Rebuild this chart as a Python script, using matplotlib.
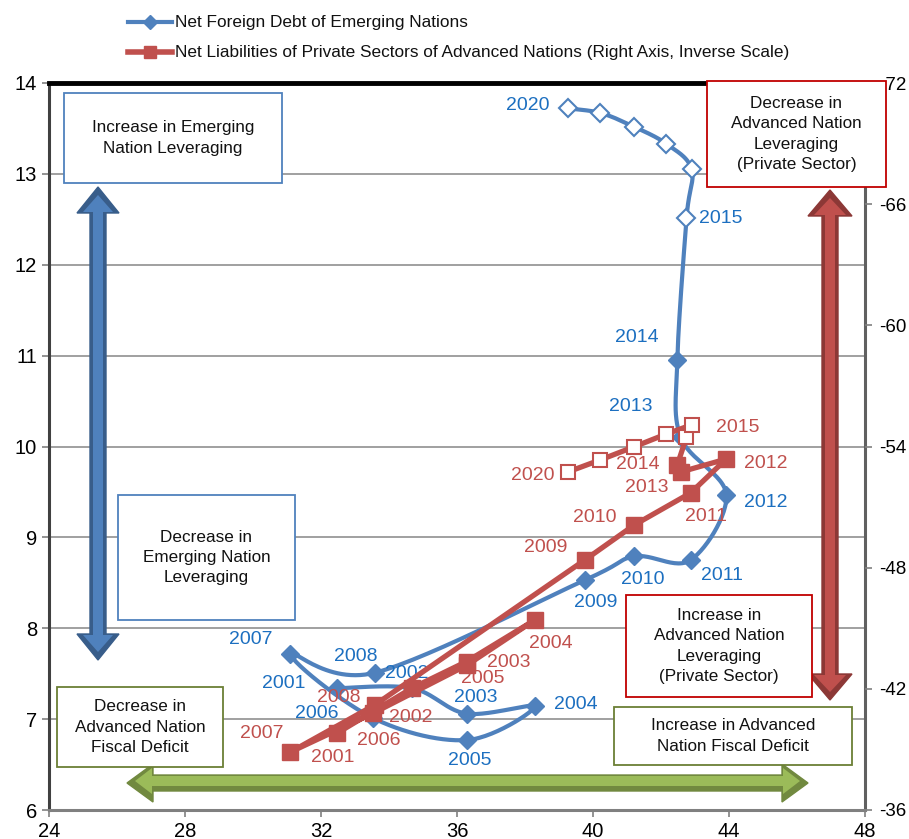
import numpy as np
import matplotlib
matplotlib.use("Agg")
import matplotlib.pyplot as plt
from matplotlib.patches import Rectangle, Polygon
from matplotlib.lines import Line2D

plt.rcParams['axes.unicode_minus'] = False
ARIAL = ['Liberation Sans', 'DejaVu Sans']

# ---------------- data ----------------
years = list(range(2001, 2021))
# x: advanced nation fiscal deficit (shared by both series)
x_vals = [32.48, 34.68, 36.28, 38.29, 36.30, 33.54, 31.10, 33.58, 39.76, 41.22,
          42.87, 43.92, 42.58, 42.48, 42.75, 42.90, 42.16, 41.20, 40.22, 39.26]
# left axis: net foreign debt of emerging nations
emerging = [7.34, 7.34, 7.06, 7.14, 6.77, 7.01, 7.72, 7.51, 8.53, 8.79,
            8.75, 9.47, 10.10, 10.95, 12.51, 13.05, 13.33, 13.52, 13.67, 13.72]
# right axis (inverse): net liabilities of private sectors of advanced nations
advanced = [-39.81, -42.04, -43.35, -45.41, -43.18, -40.80, -38.87, -41.20, -48.38, -50.12,
            -51.70, -53.38, -52.74, -53.09, -54.47, -55.07, -54.62, -53.98, -53.34, -52.74]
n_actual = 14  # 2001-2014 actual (filled), 2015-2020 projected (open)

x_ticks = [24, 28, 32, 36, 40, 44, 48]
left_ticks = [6, 7, 8, 9, 10, 11, 12, 13, 14]
right_ticks = [-36, -42, -48, -54, -60, -66, -72]

legend_labels = ["Net Foreign Debt of Emerging Nations",
                 "Net Liabilities of Private Sectors of Advanced Nations (Right Axis, Inverse Scale)"]

# label offsets (pixels) for the year labels
blue_lab = {2001: (-54, -5), 2002: (-5, -15), 2003: (9, -16), 2004: (41, -2), 2005: (3, 20),
            2006: (-57, -5), 2007: (-40, -14), 2008: (-19, -16), 2009: (11, 22), 2010: (8, 23),
            2011: (31, 15), 2012: (39, 8), 2013: (-50, -31), 2014: (-41, -23), 2015: (34, 0),
            2020: (-40, -3)}
red_lab = {2001: (-5, 24), 2002: (-1, 29), 2003: (42, 1), 2004: (16, 24), 2005: (16, 13),
           2006: (5, 27), 2007: (-29, -19), 2008: (-36, -7), 2009: (-39, -12), 2010: (-40, -7),
           2011: (15, 24), 2012: (39, 4), 2013: (-34, 16), 2014: (-40, 0), 2015: (51, -10),
           2020: (-35, 4)}

BLUE = '#4F81BD'
BLUE_T = '#1C6FC0'
RED = '#C0504D'
W, H = 909, 839

fig = plt.figure(figsize=(W / 100, H / 100), dpi=100)
L, R, T, B = 49, 865, 83, 810
ax = fig.add_axes([L / W, 1 - B / H, (R - L) / W, (B - T) / H])
ax.set_xlim(24, 48)
ax.set_ylim(6, 14)
ax.set_xticks(x_ticks)
ax.set_yticks(left_ticks)
ax.tick_params(axis='both', labelsize=14.5, length=5, color='#808080', width=1.2)
for lab in ax.get_xticklabels() + ax.get_yticklabels():
    lab.set_family(ARIAL)
for y in left_ticks[1:-1]:
    ax.axhline(y, color='#A0A0A0', lw=1.4, zorder=0)
ax.spines['top'].set_linewidth(3.5)
ax.spines['top'].set_color('black')
for s in ['left', 'bottom', 'right']:
    ax.spines[s].set_linewidth(2.2)
    ax.spines[s].set_color('#404040')
ax.spines['bottom'].set_color('#808080')
ax.spines['right'].set_color('#606060')

ax2 = ax.twinx()
ax2.set_ylim(-36, -72)
ax2.set_yticks(right_ticks)
ax2.tick_params(axis='y', labelsize=13.5, length=5, color='#808080', width=1.2, pad=25)
for lab in ax2.get_yticklabels():
    lab.set_family(ARIAL)
    lab.set_horizontalalignment('right')
for s in ax2.spines.values():
    s.set_visible(False)

# smoothed blue line (Excel-like Bezier smoothing in pixel space)
sx = (R - L) / 24.0
sy = (B - T) / 8.0


def smooth(xs, ys, n=30):
    P = np.column_stack([np.asarray(xs) * sx, np.asarray(ys) * sy])
    out = [P[0]]
    for i in range(len(P) - 1):
        p0 = P[i - 1] if i > 0 else P[i]
        p1, p2 = P[i], P[i + 1]
        p3 = P[i + 2] if i + 2 < len(P) else P[i + 1]
        c1 = p1 + (p2 - p0) / 6
        c2 = p2 - (p3 - p1) / 6
        t = np.linspace(0, 1, n)[1:, None]
        Bz = (1 - t) ** 3 * p1 + 3 * (1 - t) ** 2 * t * c1 + 3 * (1 - t) * t ** 2 * c2 + t ** 3 * p2
        out.extend(Bz)
    out = np.array(out)
    return out[:, 0] / sx, out[:, 1] / sy


bx, by = smooth(x_vals, emerging)
ax.plot(bx, by, color=BLUE, lw=3, zorder=3, solid_capstyle='round')
ax.plot(x_vals[:n_actual], emerging[:n_actual], ls='none', marker='D', ms=9,
        mfc=BLUE, mec=BLUE, zorder=4)
ax.plot(x_vals[n_actual:], emerging[n_actual:], ls='none', marker='D', ms=9.5,
        mfc='white', mec=BLUE, mew=1.5, zorder=4)

ax2.plot(x_vals, advanced, color=RED, lw=3.8, zorder=3)
ax2.plot(x_vals[:n_actual], advanced[:n_actual], ls='none', marker='s', ms=12,
         mfc=RED, mec=RED, zorder=4)
ax2.plot(x_vals[n_actual:], advanced[n_actual:], ls='none', marker='s', ms=10,
         mfc='white', mec=RED, mew=1.5, zorder=4)

for i, yr in enumerate(years):
    if yr in blue_lab:
        dx, dy = blue_lab[yr]
        ax.annotate(str(yr), (x_vals[i], emerging[i]), xytext=(dx, -dy),
                    textcoords='offset pixels', ha='center', va='center',
                    fontsize=14, color=BLUE_T, family=ARIAL, zorder=6)
    if yr in red_lab:
        dx, dy = red_lab[yr]
        ax2.annotate(str(yr), (x_vals[i], advanced[i]), xytext=(dx, -dy),
                     textcoords='offset pixels', ha='center', va='center',
                     fontsize=14, color=RED, family=ARIAL, zorder=6)


# ---------- figure-level helpers in pixel coordinates ----------
def fx(px):
    return px / W


def fy(py):
    return 1 - py / H


def box(x0, y0, x1, y1, text, ec):
    fig.add_artist(Rectangle((fx(x0), fy(y1)), fx(x1) - fx(x0), fy(y0) - fy(y1),
                             transform=fig.transFigure, fc='white', ec=ec, lw=1.3, zorder=10))
    fig.text(fx((x0 + x1) / 2), fy((y0 + y1) / 2), text, ha='center', va='center',
             fontsize=12.3, family=ARIAL, color='#111111', linespacing=1.42, zorder=11)


def varrow(xc, ytop, ybot, fill, edge, hw=21, sw=8, hl=26):
    pts = [(xc, ytop), (xc + hw, ytop + hl), (xc + sw, ytop + hl), (xc + sw, ybot - hl),
           (xc + hw, ybot - hl), (xc, ybot), (xc - hw, ybot - hl), (xc - sw, ybot - hl),
           (xc - sw, ytop + hl), (xc - hw, ytop + hl)]
    fig.add_artist(Polygon([(fx(a), fy(b)) for a, b in pts], closed=True,
                           transform=fig.transFigure, fc=edge, ec=edge, lw=1, zorder=9))
    s2, h2 = sw - 3, hw - 6
    pts2 = [(xc, ytop + 8), (xc + h2, ytop + hl - 1), (xc + s2, ytop + hl - 1), (xc + s2, ybot - hl + 1),
            (xc + h2, ybot - hl + 1), (xc, ybot - 8), (xc - h2, ybot - hl + 1), (xc - s2, ybot - hl + 1),
            (xc - s2, ytop + hl - 1), (xc - h2, ytop + hl - 1)]
    fig.add_artist(Polygon([(fx(a), fy(b)) for a, b in pts2], closed=True,
                           transform=fig.transFigure, fc=fill, ec='none', zorder=9))


def harrow(yc, xl, xr, fill, edge, hw=19, sw=8, hl=26):
    pts = [(xl, yc), (xl + hl, yc - hw), (xl + hl, yc - sw), (xr - hl, yc - sw), (xr - hl, yc - hw),
           (xr, yc), (xr - hl, yc + hw), (xr - hl, yc + sw), (xl + hl, yc + sw), (xl + hl, yc + hw)]
    fig.add_artist(Polygon([(fx(a), fy(b)) for a, b in pts], closed=True,
                           transform=fig.transFigure, fc=edge, ec=edge, lw=1, zorder=9))
    s2, h2 = sw - 3, hw - 6
    pts2 = [(xl + 8, yc - 2), (xl + hl - 1, yc - h2 - 2), (xl + hl - 1, yc - s2 - 2),
            (xr - hl + 1, yc - s2 - 2), (xr - hl + 1, yc - h2 - 2), (xr - 8, yc - 2),
            (xr - hl + 1, yc + h2 - 2), (xr - hl + 1, yc + s2 - 2), (xl + hl - 1, yc + s2 - 2),
            (xl + hl - 1, yc + h2 - 2)]
    fig.add_artist(Polygon([(fx(a), fy(b)) for a, b in pts2], closed=True,
                           transform=fig.transFigure, fc=fill, ec='none', zorder=9))


varrow(98, 187, 660, '#4F81BD', '#385D8A')
varrow(830, 190, 700, '#C0504D', '#8C3836', hw=22)
harrow(783, 127, 808, '#9BBB59', '#71893F')

box(64, 93, 282, 183, "Increase in Emerging\nNation Leveraging", '#4F81BD')
box(118, 495, 295, 620, "Decrease in\nEmerging Nation\nLeveraging", '#4F81BD')
box(57, 687, 223, 767, "Decrease in\nAdvanced Nation\nFiscal Deficit", '#6B7F35')
box(626, 595, 812, 697, "Increase in\nAdvanced Nation\nLeveraging\n(Private Sector)", '#C00000')
box(614, 707, 852, 765, "Increase in Advanced\nNation Fiscal Deficit", '#6B7F35')
box(707, 81, 886, 187, "Decrease in\nAdvanced Nation\nLeveraging\n(Private Sector)", '#C00000')

# ---------- legend ----------
fig.add_artist(Line2D([fx(128), fx(172)], [fy(22), fy(22)], transform=fig.transFigure,
                      color=BLUE, lw=3, zorder=10))
fig.add_artist(Line2D([fx(150)], [fy(22)], transform=fig.transFigure,
                      color=BLUE, marker='D', ms=7, ls='none', zorder=10))
fig.add_artist(Line2D([fx(128), fx(172)], [fy(52), fy(52)], transform=fig.transFigure,
                      color=RED, lw=4, zorder=10))
fig.add_artist(Line2D([fx(150)], [fy(52)], transform=fig.transFigure,
                      color=RED, marker='s', ms=9, ls='none', zorder=10))
fig.text(fx(175), fy(22), legend_labels[0], ha='left', va='center', fontsize=12.4,
         family=ARIAL, color='#111111')
fig.text(fx(175), fy(52), legend_labels[1], ha='left', va='center', fontsize=12.4,
         family=ARIAL, color='#111111')

fig.savefig('out.png', dpi=100, facecolor='white')
